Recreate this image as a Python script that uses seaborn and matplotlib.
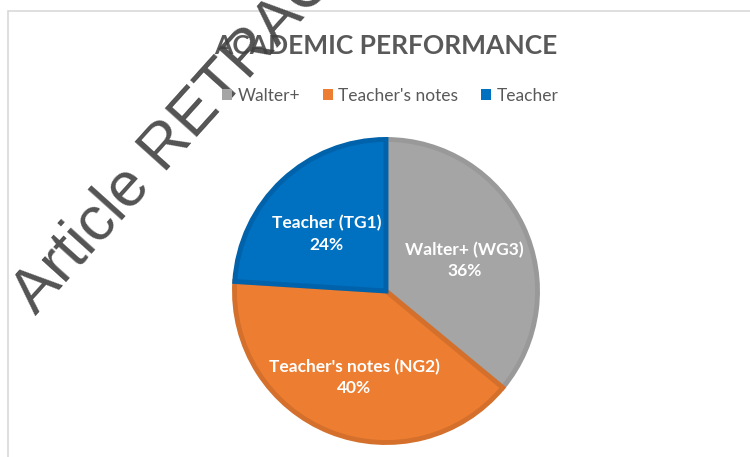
import matplotlib
matplotlib.use("Agg")
import matplotlib.pyplot as plt
import seaborn as sns
from matplotlib.patches import Patch, Rectangle

# chart data
groups = ["Walter+", "Teacher's notes", "Teacher"]
codes = ["WG3", "NG2", "TG1"]
shares = [36, 40, 24]
fills = ["#A5A5A5", "#ED7D31", "#0070C0"]
edges = ["#999999", "#D4702B", "#0062AA"]
title = "ACADEMIC PERFORMANCE"
watermark = "Article RETRACTED"

sns.set_theme(style="white")
plt.rcParams["font.family"] = ["Lato", "DejaVu Sans"]

fig = plt.figure(figsize=(7.5, 4.57), dpi=100)
W, H = 750, 457

# light chart border (top and left visible, rest runs off the image)
fig.add_artist(Rectangle((8 / W, -0.1), 1.2, 1.1 - 11 / H,
                         transform=fig.transFigure, fill=False,
                         edgecolor="#D9D9D9", linewidth=1.2))

# pie axes
cx, cy, r = 386, 291, 154
ax = fig.add_axes([(cx - r) / W, (H - cy - r) / H, 2 * r / W, 2 * r / H])
wedges, _, autotexts = ax.pie(shares, colors=fills, startangle=90,
                              counterclock=False, autopct="%d%%",
                              pctdistance=0.57, radius=0.984,
                              wedgeprops=dict(linewidth=3.5))
for w, ec in zip(wedges, edges):
    w.set_edgecolor(ec)
for t, g, c, s in zip(autotexts, groups, codes, shares):
    t.set_text(f"{g} ({c})\n{s}%")
    t.set_color("white")
    t.set_fontweight("bold")
    t.set_fontsize(12.5)
    t.set_linespacing(1.4)
    x, y = t.get_position()
    t.set_position((x, y - 0.04))
ax.set_xlim(-1, 1)
ax.set_ylim(-1, 1)
ax.set_aspect("equal")

fig.text(0.515, 1 - 46 / H, title, ha="center", va="center",
         fontsize=19, fontweight="bold", color="#595959")

handles = [Patch(facecolor=c, edgecolor="none") for c in fills]
fig.legend(handles, groups, loc="center", bbox_to_anchor=(390 / W, 1 - 96 / H),
           ncol=3, frameon=False, fontsize=12.5, handlelength=0.6,
           handleheight=0.6, handletextpad=0.3, columnspacing=1.3,
           labelcolor="#595959")

# retraction watermark over everything
fig.text(36 / W, 1 - 316 / H, watermark, rotation=48, rotation_mode="anchor",
         ha="left", va="baseline", fontsize=45, color="#404040",
         family=["Liberation Sans", "DejaVu Sans"], alpha=0.9)

fig.savefig("out.png", dpi=100)
